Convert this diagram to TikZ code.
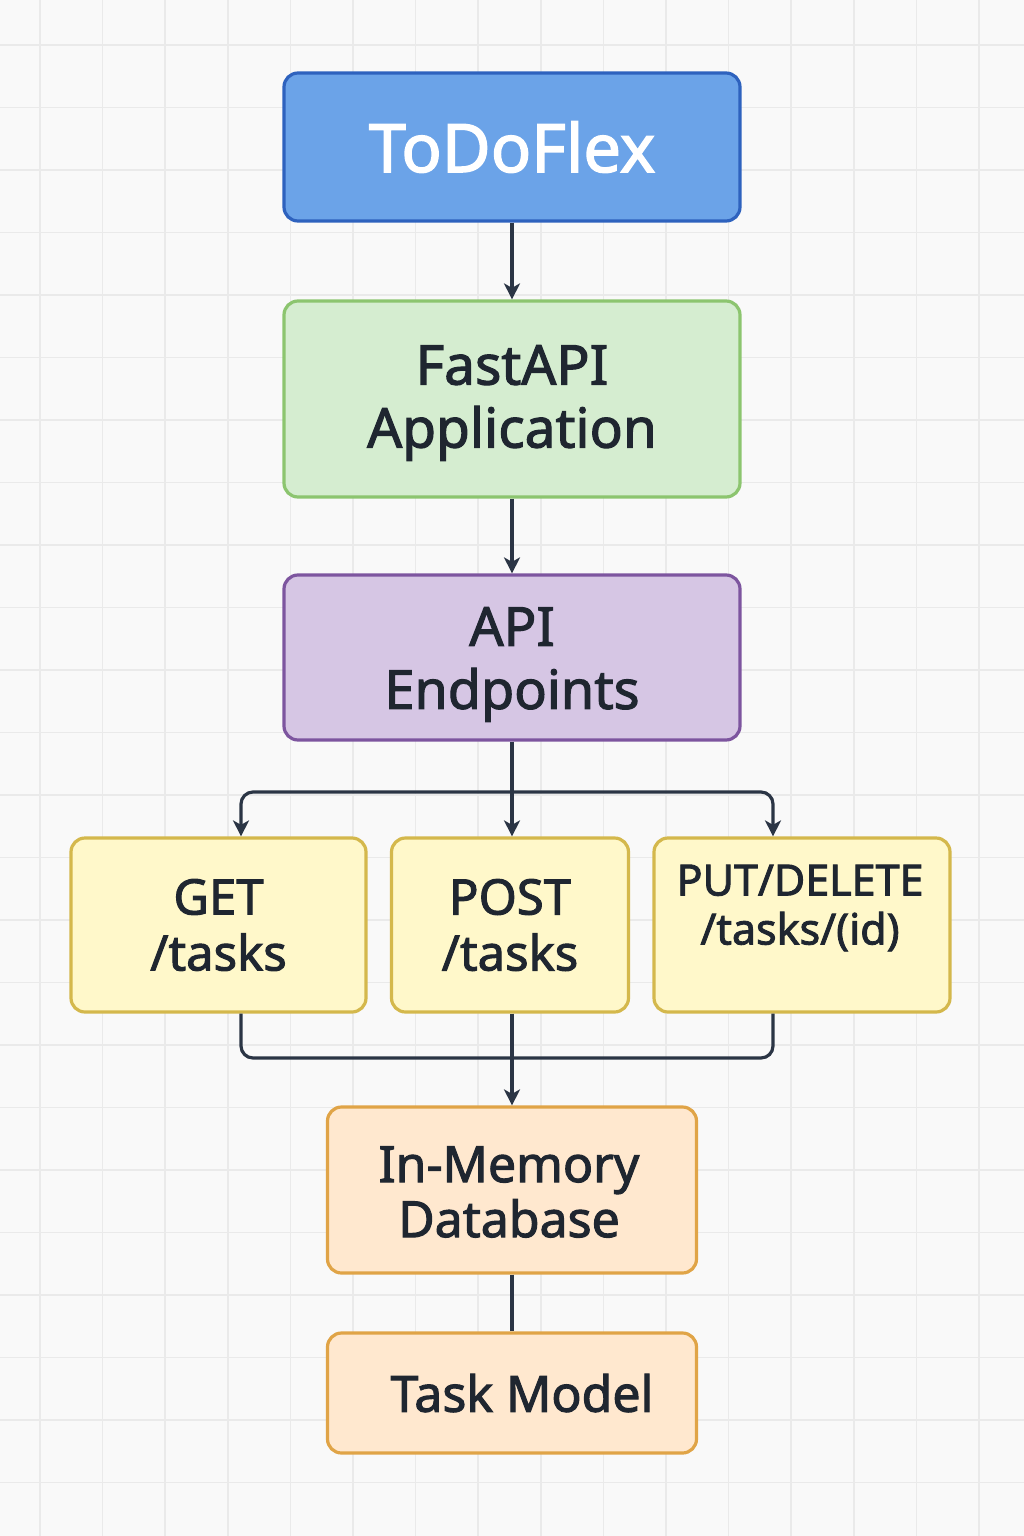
\documentclass[tikz,border=0pt]{standalone}
\usepackage{fontspec}
\setmainfont{Noto Sans}[FakeBold=2]
\usetikzlibrary{arrows.meta}
\definecolor{bg}{HTML}{F9F9F9}
\definecolor{gridc}{HTML}{EAEAEA}
\definecolor{linec}{HTML}{2B3545}
\definecolor{txtc}{HTML}{1F2630}
\definecolor{blueF}{HTML}{6BA3E8}
\definecolor{blueD}{HTML}{2E62BE}
\definecolor{greenF}{HTML}{D5EDD0}
\definecolor{greenD}{HTML}{8CC56F}
\definecolor{purpF}{HTML}{D6C6E4}
\definecolor{purpD}{HTML}{7D559F}
\definecolor{yelF}{HTML}{FFF8CA}
\definecolor{yelD}{HTML}{D4B84C}
\definecolor{oraF}{HTML}{FFE8CF}
\definecolor{oraD}{HTML}{E0A447}
\begin{document}
\begin{tikzpicture}[x=1pt,y=-1pt,
  gridline/.style={draw=gridc,line width=1.6pt},
  box/.style={rectangle,rounded corners=14pt,line width=3.2pt,inner sep=0pt},
  txt/.style={align=center,inner sep=0pt,text=txtc},
  conn/.style={draw=linec,line width=3.2pt,rounded corners=12pt},
  arr/.style={conn,-{Stealth[length=16pt,width=16pt,inset=4.5pt]}}]
\useasboundingbox (0,0) rectangle (1024,1536);
\fill[bg] (0,0) rectangle (1024,1536);
\foreach \i in {0,...,15} {\draw[gridline] ({40+62.6*\i},0) -- ({40+62.6*\i},1536);}
\foreach \j in {0,...,24} {\draw[gridline] (0,{45+62.5*\j}) -- (1024,{45+62.5*\j});}

% boxes
\node[box,fill=blueF,draw=blueD,minimum width=456pt,minimum height=148pt] (todo) at (512,147) {};
\node[box,fill=greenF,draw=greenD,minimum width=456pt,minimum height=196pt] (fast) at (512,399) {};
\node[box,fill=purpF,draw=purpD,minimum width=456pt,minimum height=165pt] (api) at (512,657.5) {};
\node[box,fill=yelF,draw=yelD,minimum width=295pt,minimum height=174pt] (get) at (218.5,925) {};
\node[box,fill=yelF,draw=yelD,minimum width=237pt,minimum height=174pt] (post) at (510,925) {};
\node[box,fill=yelF,draw=yelD,minimum width=296pt,minimum height=174pt] (put) at (802,925) {};
\node[box,fill=oraF,draw=oraD,minimum width=369pt,minimum height=166pt] (db) at (512,1190) {};
\node[box,fill=oraF,draw=oraD,minimum width=369pt,minimum height=120pt] (task) at (512,1393) {};

% texts
\node[txt,text=white,font=\fontsize{67}{80}\selectfont] (todoT) at (todo.center) {ToDoFlex};
\node[txt,font=\fontsize{55}{63}\selectfont] (fastT) at ([yshift=-4pt]fast.center) {FastAPI\\Application};
\node[txt,font=\fontsize{54}{63}\selectfont] (apiT) at ([yshift=-7pt]api.center) {API\\Endpoints};
\node[txt,font=\fontsize{49}{56}\selectfont] (getT) at (get.center) {GET\\/tasks};
\node[txt,font=\fontsize{49}{56}\selectfont] (postT) at (post.center) {POST\\/tasks};
\node[txt,font=\fontsize{43}{49}\selectfont] (putT) at ([xshift=-2pt,yshift=17pt]put.center) {PUT/DELETE\\/tasks/(id)};
\node[txt,font=\fontsize{50}{55}\selectfont] (dbT) at ([xshift=-3pt,yshift=-2pt]db.center) {In-Memory\\Database};
\node[txt,font=\fontsize{50}{60}\selectfont] (taskT) at ([xshift=10pt]task.center) {Task Model};

% connectors
\coordinate (split) at (512,792);
\coordinate (join) at (512,1058);
\draw[arr] (todo.south) -- (fast.north);
\draw[arr] (fast.south) -- (api.north);
\draw[conn] (api.south) -- (split);
\draw[arr] (split) -| ([xshift=22.5pt]get.north);
\draw[arr] (split) -| ([xshift=-29pt]put.north);
\draw[arr] (split) -- (split |- post.north);
\draw[conn] ([xshift=22.5pt]get.south) |- (join) -| ([xshift=-29pt]put.south);
\draw[arr] (join |- post.south) -- (db.north);
\draw[conn] (db.south) -- (task.north);
\end{tikzpicture}
\end{document}
